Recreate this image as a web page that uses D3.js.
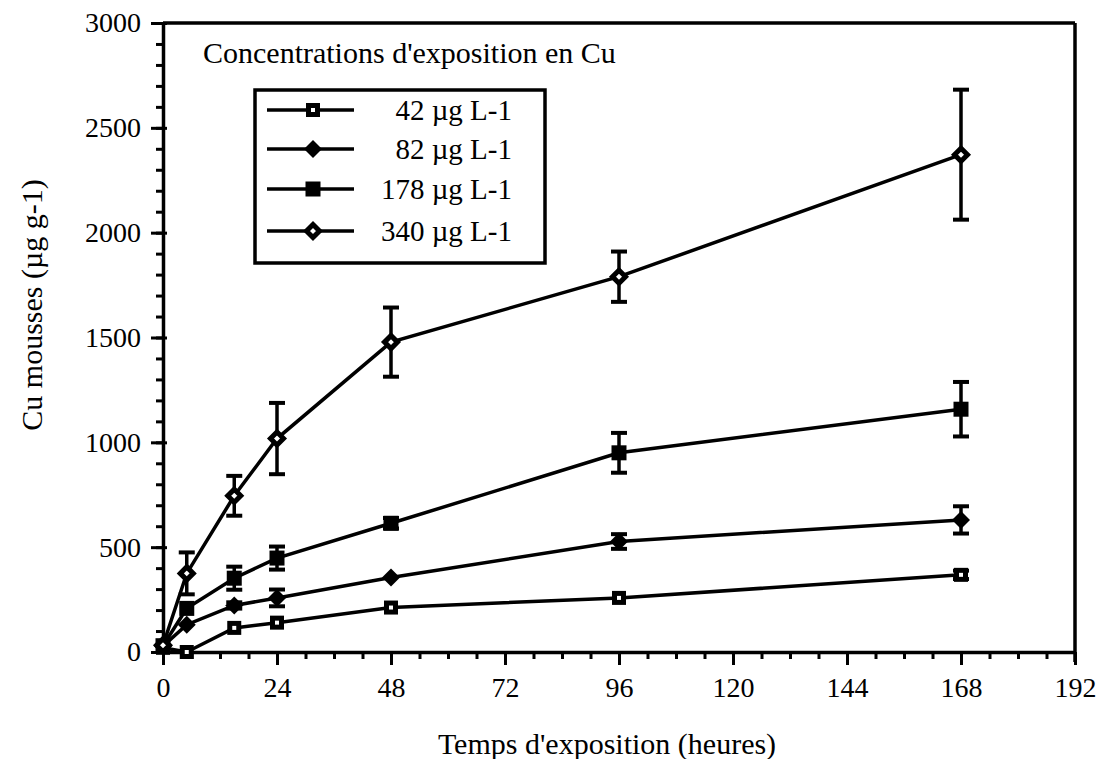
<!DOCTYPE html>
<html><head><meta charset="utf-8">
<script src="https://cdn.jsdelivr.net/npm/d3@7"></script>
<style>
body{margin:0;background:#fff;}
text{font-family:"Liberation Serif","Times New Roman",serif;fill:#000;}
</style></head>
<body><svg id="c" width="1097" height="759"></svg>
<script>
const hours = [0, 5, 15, 24, 48, 96, 168];
const seriesNames = ["42 µg L-1", "82 µg L-1", "178 µg L-1", "340 µg L-1"];
const s42  = [20, 0, 115, 140, 212, 258, 368];
const s82  = [28, 130, 222, 258, 355, 527, 630];
const s178 = [30, 208, 352, 448, 614, 950, 1158];
const s340 = [32, 375, 745, 1018, 1478, 1790, 2372];
const e42  = [0, 0, 0, 0, 0, 0, 20];
const e82  = [0, 0, 15, 40, 0, 35, 65];
const e178 = [0, 0, 55, 55, 25, 95, 130];
const e340 = [0, 100, 95, 170, 165, 120, 310];
const xTicks = [0, 24, 48, 72, 96, 120, 144, 168, 192];
const yTicks = [0, 500, 1000, 1500, 2000, 2500, 3000];
const markerTypes = ["openSquare", "filledDiamond", "filledSquare", "openDiamond"];

const svg = d3.select("#c");
const L = 163, R = 1075, T = 23, B = 652;
const x = d3.scaleLinear().domain([0, 192]).range([L, R]);
const y = d3.scaleLinear().domain([0, 3000]).range([B, T]);
const SW = 3.5;

// frame top & right
svg.append("line").attr("x1", L).attr("x2", R).attr("y1", T).attr("y2", T).attr("stroke", "#000").attr("stroke-width", SW);
svg.append("line").attr("x1", R).attr("x2", R).attr("y1", T).attr("y2", B + 10).attr("stroke", "#000").attr("stroke-width", SW);

// minor ticks
const xMinor = d3.range(0, 193, 6);
const yMinor = d3.range(0, 3001, 100);
svg.append("g").attr("transform", `translate(0,${B})`)
  .call(d3.axisBottom(x).tickValues(xMinor).tickSize(7).tickFormat(""))
  .call(g => { g.select(".domain").remove(); g.selectAll("line").attr("stroke-width", 3); });
svg.append("g").attr("transform", `translate(${L},0)`)
  .call(d3.axisLeft(y).tickValues(yMinor).tickSize(7).tickFormat(""))
  .call(g => { g.select(".domain").remove(); g.selectAll("line").attr("stroke-width", 3); });

// major axes
const xa = svg.append("g").attr("transform", `translate(0,${B})`)
  .call(d3.axisBottom(x).tickValues(xTicks).tickFormat(d3.format("d")).tickSizeInner(13).tickSizeOuter(0).tickPadding(12));
xa.select(".domain").attr("stroke-width", SW);
xa.selectAll("line").attr("stroke-width", 3);
xa.selectAll("text").attr("font-size", 28).attr("font-family", "Liberation Serif");

const ya = svg.append("g").attr("transform", `translate(${L},0)`)
  .call(d3.axisLeft(y).tickValues(yTicks).tickFormat(d3.format("d")).tickSizeInner(12).tickSizeOuter(0).tickPadding(10));
ya.select(".domain").attr("stroke-width", SW);
ya.selectAll("line").attr("stroke-width", 3).attr("x2", -12).attr("x1", 4);
ya.selectAll("text").attr("font-size", 28).attr("font-family", "Liberation Serif");

// axis titles
svg.append("text").attr("x", 607).attr("y", 754).attr("text-anchor", "middle")
  .attr("font-size", 30).text("Temps d'exposition (heures)");
svg.append("text").attr("transform", "translate(42,305) rotate(-90)").attr("text-anchor", "middle")
  .attr("font-size", 30).text("Cu mousses (µg g-1)");

function marker(g, type, cx, cy) {
  if (type === "openSquare") {
    g.append("rect").attr("x", cx - 4.5).attr("y", cy - 4.5).attr("width", 9).attr("height", 9)
      .attr("fill", "#fff").attr("stroke", "#000").attr("stroke-width", 5);
  } else if (type === "filledSquare") {
    g.append("rect").attr("x", cx - 7.5).attr("y", cy - 7.5).attr("width", 15).attr("height", 15).attr("fill", "#000");
  } else if (type === "filledDiamond") {
    const r = 9;
    g.append("path").attr("d", `M${cx},${cy - r}L${cx + r},${cy}L${cx},${cy + r}L${cx - r},${cy}Z`).attr("fill", "#000");
  } else {
    const r = 6.5;
    g.append("path").attr("d", `M${cx},${cy - r}L${cx + r},${cy}L${cx},${cy + r}L${cx - r},${cy}Z`)
      .attr("fill", "#fff").attr("stroke", "#000").attr("stroke-width", 5);
  }
}

const allSeries = [s42, s82, s178, s340];
const allErr = [e42, e82, e178, e340];
const line = d3.line().x(d => x(d[0])).y(d => y(d[1]));
allSeries.forEach((vals, i) => {
  const pts = hours.map((h, j) => [h, vals[j]]);
  svg.append("path").attr("d", line(pts)).attr("fill", "none").attr("stroke", "#000").attr("stroke-width", SW);
  const g = svg.append("g");
  pts.forEach((p, j) => {
    const e = allErr[i][j];
    if (e > 0) {
      const cx = x(p[0]);
      g.append("line").attr("x1", cx).attr("x2", cx).attr("y1", y(p[1] - e)).attr("y2", y(p[1] + e)).attr("stroke", "#000").attr("stroke-width", 3.5);
      [p[1] - e, p[1] + e].forEach(v => g.append("line").attr("x1", cx - 8).attr("x2", cx + 8).attr("y1", y(v)).attr("y2", y(v)).attr("stroke", "#000").attr("stroke-width", 4));
    }
  });
  pts.forEach(p => marker(g, markerTypes[i], x(p[0]), y(p[1])));
});

// legend
svg.append("text").attr("x", 203).attr("y", 63).attr("font-size", 30).text("Concentrations d'exposition en Cu");
svg.append("rect").attr("x", 255).attr("y", 90).attr("width", 290).attr("height", 173)
  .attr("fill", "none").attr("stroke", "#000").attr("stroke-width", SW);
const rowY = [110, 149, 189, 231];
seriesNames.forEach((name, i) => {
  svg.append("line").attr("x1", 267).attr("x2", 354).attr("y1", rowY[i]).attr("y2", rowY[i]).attr("stroke", "#000").attr("stroke-width", SW);
  marker(svg, markerTypes[i], 313, rowY[i]);
  svg.append("text").attr("x", 512).attr("y", rowY[i]).attr("dy", "0.35em").attr("text-anchor", "end")
    .attr("font-size", 29).text(name);
});
</script></body></html>
